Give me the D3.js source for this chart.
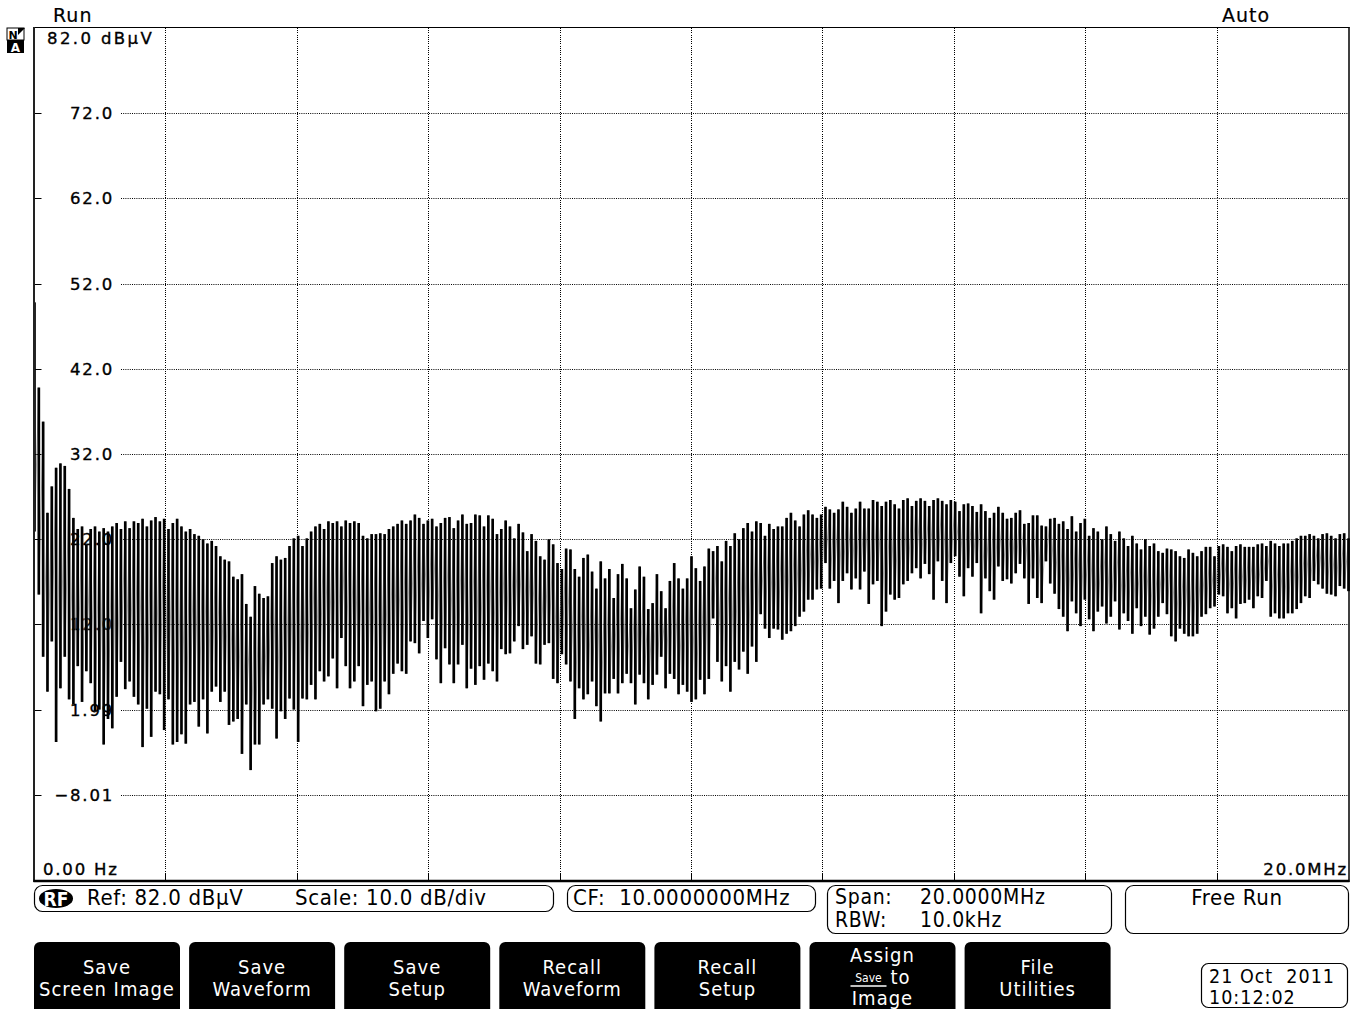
<!DOCTYPE html>
<html><head><meta charset="utf-8">
<script src="https://cdn.jsdelivr.net/npm/d3@7/dist/d3.min.js"></script>
<style>
body{margin:0;background:#fff;}
svg{display:block;}
.lbl{font-family:"DejaVu Sans",sans-serif;font-size:16.5px;letter-spacing:1.8px;fill:#000;stroke:#000;stroke-width:0.35px;}
.top{font-family:"DejaVu Sans",sans-serif;font-size:19px;letter-spacing:1px;fill:#000;stroke:#000;stroke-width:0.2px;}
.cond{font-family:"DejaVu Sans Condensed","Liberation Sans Narrow","Roboto Condensed","DejaVu Sans",sans-serif;fill:#000;letter-spacing:0.7px;}
.btn{letter-spacing:1px;}
</style></head><body>
<svg id="c" width="1356" height="1009"></svg>
<script>
// ---- data ----
const freqRangeMHz = [0, 20];
const refLevel = 82.0, scaleDiv = 10.0, divisions = 10;
const yTickValues = [82.0, 72.0, 62.0, 52.0, 42.0, 32.0, 22.0, 12.0, 1.99, -8.01];
const yTickLabels = ["82.0 dBµV", "72.0", "62.0", "52.0", "42.0", "32.0", "22.0", "12.0", "1.99", "−8.01"];
const xEdgeLabels = ["0.00 Hz", "20.0MHz"];
// per-bin maximum (dBµV)
const traceHigh = [
49.8,39.8,35.8,25.1,28.2,30.4,30.9,30.6,27.9,24.5,
23.2,23.5,21.4,23.2,23.5,22.9,23.3,22.9,23.5,23.9,
23.2,24.1,23.3,24.1,23.9,24.4,23.5,24.2,24.6,24.1,
24.4,23.2,23.9,24.4,23.5,22.9,23.2,22.6,22.4,22.0,
21.5,21.8,21.2,20.0,19.6,19.4,17.6,17.3,17.9,14.4,
12.9,16.5,15.6,15.1,15.3,19.2,20.0,19.6,19.8,21.2,
22.1,22.4,21.2,22.1,22.9,23.5,23.8,23.2,24.1,23.9,
24.1,23.5,24.2,23.9,24.1,23.9,22.4,22.1,22.6,22.6,
22.7,22.6,23.2,23.5,23.8,24.2,23.8,24.2,24.9,24.5,
23.8,24.2,24.4,23.5,23.9,24.5,24.6,23.3,24.2,24.9,
23.8,23.9,24.9,24.8,23.5,24.8,24.4,22.6,23.2,24.2,
23.5,22.1,23.8,22.8,20.6,22.6,21.8,20.0,19.6,22.0,
21.4,19.2,18.5,20.9,20.8,18.5,17.6,19.8,20.2,18.2,
16.2,19.4,17.4,18.5,15.1,17.9,19.1,17.4,13.9,16.1,
18.8,17.6,13.8,14.5,17.9,15.9,13.9,17.1,19.2,17.4,
16.2,17.4,20.0,18.6,17.1,18.8,20.9,20.6,21.2,19.4,
21.8,21.2,22.7,22.0,23.3,23.9,22.9,24.1,23.9,22.4,
23.8,23.2,23.5,23.5,24.5,25.1,24.2,23.5,24.9,25.4,
24.9,24.5,24.9,25.8,25.5,25.1,25.5,26.4,25.8,25.1,
25.6,26.4,25.6,25.6,26.6,26.4,25.9,26.4,26.6,26.1,
25.6,26.6,26.8,25.9,26.5,26.8,26.5,25.9,26.6,26.8,
26.5,26.1,26.6,26.4,25.3,26.1,26.2,25.9,25.2,26.1,
25.3,24.5,25.1,25.8,25.1,24.4,24.5,25.1,25.4,23.8,
23.9,24.8,24.8,23.6,23.5,24.4,24.5,23.8,24.1,23.2,
24.7,22.9,23.9,24.4,22.4,23.3,22.9,22.0,23.5,22.6,
21.8,22.9,22.1,21.2,22.4,21.5,20.8,22.0,21.2,21.5,
20.6,20.4,20.9,20.8,20.6,20.0,19.8,20.8,20.4,20.0,
20.6,21.1,21.1,20.0,21.2,21.4,21.1,20.6,21.2,21.4,
21.1,21.1,21.1,21.4,21.5,21.2,21.8,21.5,21.2,21.5,
21.5,21.8,22.1,22.4,22.4,22.6,22.4,22.1,22.6,22.7,
22.4,22.1,22.6,22.7,22.1
];
// per-bin minimum (dBµV)
const traceLow = [
22.9,15.5,8.2,4.1,10.0,-1.8,4.5,8.2,3.2,2.6,
7.1,2.9,6.5,5.1,1.8,2.0,-2.1,0.9,-0.2,3.5,
7.6,4.4,5.3,3.5,2.6,-2.4,2.1,-1.2,4.1,3.8,
-0.4,3.2,-2.1,-1.8,-0.9,-2.0,2.6,2.9,0.0,3.2,
-0.8,4.1,4.7,2.9,4.1,0.2,0.6,0.9,-3.2,2.6,
-5.1,-2.1,-2.1,2.6,3.2,2.1,-1.4,1.8,0.9,3.3,
2.0,-1.8,3.3,3.2,4.9,3.2,6.5,5.3,5.9,8.0,
4.5,10.4,7.1,4.5,5.3,7.1,2.4,4.9,5.3,1.8,
2.1,5.3,3.8,6.2,7.4,6.5,6.2,10.0,9.8,8.6,
12.4,10.4,12.6,7.9,5.1,9.2,7.3,5.1,7.3,9.6,
4.5,6.8,4.9,7.1,5.5,7.4,6.5,5.3,9.1,8.5,
8.6,10.0,11.8,9.1,9.6,10.6,7.4,7.3,9.6,9.8,
5.6,5.1,8.5,7.3,5.3,0.9,4.5,3.2,3.8,5.3,
2.4,0.6,3.9,3.9,5.6,3.9,5.1,6.2,5.1,2.6,
6.1,5.1,3.2,4.9,6.1,8.2,4.5,6.2,5.6,3.8,
4.9,4.1,2.9,3.2,5.5,3.8,5.6,12.7,7.6,5.3,
7.1,4.1,7.6,6.7,8.8,6.2,9.4,7.6,13.2,11.5,
10.4,11.5,11.4,10.2,10.9,11.2,11.8,12.9,13.5,14.9,
14.9,16.1,16.2,19.2,16.2,17.1,14.5,17.1,18.0,16.1,
17.4,16.1,18.2,14.4,16.7,17.1,11.8,13.5,15.5,14.9,
15.1,16.7,17.1,18.0,18.6,17.4,19.1,17.9,14.9,19.4,
17.1,14.5,19.2,20.0,17.6,15.3,18.6,17.6,19.2,13.3,
17.4,15.9,14.9,18.8,17.1,17.3,16.8,18.0,19.1,17.4,
14.4,17.4,15.1,14.5,19.4,16.8,15.6,13.8,12.9,11.2,
14.7,13.3,11.8,14.9,12.6,11.2,13.5,14.1,12.1,12.9,
14.7,11.4,13.3,12.4,10.9,13.9,11.8,12.9,10.8,11.5,
12.9,14.5,13.2,10.6,10.0,11.5,10.9,10.6,10.6,10.9,
12.9,13.2,13.9,14.1,15.5,15.3,13.3,13.9,12.7,14.4,
14.5,14.9,13.9,15.3,15.1,17.1,12.9,13.3,12.7,12.7,
13.3,13.3,13.8,14.5,15.3,15.1,17.1,16.7,16.2,15.6,
15.5,15.3,16.5,16.2,15.9
];
const statusLeft = ["Ref: 82.0 dBµV", "Scale: 10.0 dB/div"];
const statusCF = "CF:  10.0000000MHz";
const statusSpan = [["Span:", "20.0000MHz"], ["RBW:", "10.0kHz"]];
const triggerText = "Free Run";
const topLeftText = "Run", topRightText = "Auto";
const buttonLabels = [["Save", "Screen Image"], ["Save", "Waveform"], ["Save", "Setup"], ["Recall", "Waveform"], ["Recall", "Setup"], ["Assign", "Save to", "Image"], ["File", "Utilities"]];
const dateLines = ["21 Oct  2011", "10:12:02"];

// ---- layout ----
const svg = d3.select("#c");
const L = 34.5, R = 1348.5, T = 28, B = 880;
const x = d3.scaleLinear().domain(freqRangeMHz).range([L, R]);
const y = d3.scaleLinear().domain([refLevel - scaleDiv * divisions, refLevel]).range([B, T]);
const N = Math.min(traceHigh.length, traceLow.length);
const binFreq = i => freqRangeMHz[0] + (freqRangeMHz[1] - freqRangeMHz[0]) * i / (N - 1);

// top texts
svg.append("text").attr("class", "top").attr("x", 53).attr("y", 22).text(topLeftText);
svg.append("text").attr("class", "top").attr("x", 1222).attr("y", 22).text(topRightText);
// N/A icon
const ic = svg.append("g");
ic.append("rect").attr("x", 7).attr("y", 28).attr("width", 17).attr("height", 12).attr("fill", "#fff").attr("stroke", "#000").attr("stroke-width", 1);
ic.append("path").attr("d", "M18,28 L25,28 L18,35 Z").attr("fill", "#000");
ic.append("text").attr("x", 8.5).attr("y", 38.5).attr("font-family", "DejaVu Sans").attr("font-weight", "bold").attr("font-size", 11).text("N");
ic.append("rect").attr("x", 7).attr("y", 40).attr("width", 17).attr("height", 13).attr("fill", "#000");
ic.append("text").attr("x", 15.5).attr("y", 51.5).attr("text-anchor", "middle").attr("font-family", "DejaVu Sans").attr("font-weight", "bold").attr("font-size", 12).attr("fill", "#fff").text("A");

// grid
const gx = d3.range(1, divisions);
const gxPos = d => x(freqRangeMHz[0] + d * (freqRangeMHz[1] - freqRangeMHz[0]) / divisions);
svg.append("g").selectAll("line").data(gx).join("line")
  .attr("x1", gxPos).attr("x2", gxPos)
  .attr("y1", T).attr("y2", B)
  .attr("stroke", "#000").attr("stroke-width", 1).attr("stroke-dasharray", "1,1.2").attr("shape-rendering", "crispEdges");
svg.append("g").selectAll("line").data(gx).join("line")
  .attr("x1", gxPos).attr("x2", gxPos)
  .attr("y1", B - 6).attr("y2", B)
  .attr("stroke", "#000").attr("stroke-width", 1).attr("shape-rendering", "crispEdges");
svg.append("g").selectAll("line").data(yTickValues.slice(1)).join("line")
  .attr("x1", 121).attr("x2", R).attr("y1", d => Math.round(y(d)) + 0.5).attr("y2", d => Math.round(y(d)) + 0.5)
  .attr("stroke", "#000").attr("stroke-width", 1).attr("stroke-dasharray", "1,1.2");
svg.append("g").selectAll("line").data(yTickValues.slice(1)).join("line")
  .attr("x1", L).attr("x2", L + 7).attr("y1", d => Math.round(y(d)) + 0.5).attr("y2", d => Math.round(y(d)) + 0.5)
  .attr("stroke", "#000").attr("stroke-width", 1);

// y labels
svg.append("g").selectAll("text").data(yTickValues).join("text")
  .attr("class", "lbl")
  .attr("x", (d, i) => i === 0 ? 47 : 114)
  .attr("text-anchor", (d, i) => i === 0 ? "start" : "end")
  .attr("y", (d, i) => i === 0 ? 44 : y(d) + 6)
  .style("letter-spacing", (d, i) => i === 0 ? "2.4px" : null)
  .text((d, i) => yTickLabels[i]);
// x labels
svg.append("text").attr("class", "lbl").attr("x", 43).attr("y", 875).text(xEdgeLabels[0]);
svg.append("text").attr("class", "lbl").attr("x", 1348).attr("y", 875).attr("text-anchor", "end").text(xEdgeLabels[1]);

// trace
const bins = d3.range(N).map(i => ({f: binFreq(i), hi: traceHigh[i], lo: traceLow[i]}));
const zig = [];
bins.forEach(d => { zig.push([x(d.f), y(d.hi)]); zig.push([x(d.f), y(d.lo)]); });
svg.append("path").attr("d", d3.line()(zig)).attr("fill", "none").attr("stroke", "#8a8a8a").attr("stroke-width", 0.7);
svg.append("g").selectAll("line").data(bins).join("line")
  .attr("x1", d => x(d.f)).attr("x2", d => x(d.f))
  .attr("y1", d => y(d.hi)).attr("y2", d => Math.max(y(d.lo), y(d.hi) + 2))
  .attr("stroke", "#000").attr("stroke-width", 2.7);

// frame
const fr = svg.append("g").attr("fill", "none").attr("stroke", "#000");
fr.append("line").attr("x1", L - 1).attr("x2", R + 1).attr("y1", T - 0.5).attr("y2", T - 0.5).attr("stroke-width", 1);
fr.append("line").attr("x1", L - 0.5).attr("x2", L - 0.5).attr("y1", T - 1).attr("y2", B + 2).attr("stroke-width", 2).attr("stroke", "#222");
fr.append("line").attr("x1", R + 0.5).attr("x2", R + 0.5).attr("y1", T - 1).attr("y2", B + 2).attr("stroke-width", 1.5);
fr.append("line").attr("x1", L - 1).attr("x2", R + 1).attr("y1", B + 1).attr("y2", B + 1).attr("stroke-width", 2.5);

// status bar
const sb = svg.append("g");
function box(x0, y0, w, h) {
  sb.append("rect").attr("x", x0).attr("y", y0).attr("width", w).attr("height", h).attr("rx", 8).attr("ry", 8)
    .attr("fill", "none").attr("stroke", "#000").attr("stroke-width", 1.2);
}
box(34.5, 885.5, 519, 26);
box(567.5, 885.5, 248, 26);
box(827.5, 885.5, 284, 48);
box(1125.5, 885.5, 223, 48);
sb.append("ellipse").attr("cx", 56).attr("cy", 898.5).attr("rx", 17).attr("ry", 9.5).attr("fill", "#000");
sb.append("text").attr("class", "cond").attr("x", 56).attr("y", 905.5).attr("text-anchor", "middle").attr("font-size", 19).attr("font-weight", "bold").style("letter-spacing", "0px").style("fill", "#fff").text("RF");
sb.append("text").attr("class", "cond").attr("x", 87).attr("y", 905).attr("font-size", 22).text(statusLeft[0]);
sb.append("text").attr("class", "cond").attr("x", 295).attr("y", 905).attr("font-size", 22).text(statusLeft[1]);
sb.append("text").attr("class", "cond").attr("x", 573).attr("y", 905).attr("font-size", 22).style("white-space", "pre").text(statusCF);
statusSpan.forEach((r, k) => {
  sb.append("text").attr("class", "cond").attr("x", 835).attr("y", 904 + k * 23).attr("font-size", 21).text(r[0]);
  sb.append("text").attr("class", "cond").attr("x", 920).attr("y", 904 + k * 23).attr("font-size", 21).text(r[1]);
});
sb.append("text").attr("class", "cond").attr("x", 1237).attr("y", 905).attr("text-anchor", "middle").attr("font-size", 22).text(triggerText);

// buttons
const bw = 146, bgap = 9.1;
const bg = svg.append("g");
buttonLabels.forEach((lines, k) => {
  const bx = 34 + k * (bw + bgap);
  bg.append("rect").attr("x", bx).attr("y", 942).attr("width", bw).attr("height", 80).attr("rx", 6).attr("fill", "#000");
  const cx = bx + bw / 2;
  if (lines.length === 2) {
    bg.append("text").attr("class", "cond btn").attr("x", cx).attr("y", 974).attr("text-anchor", "middle").attr("font-size", 20).style("fill", "#fff").text(lines[0]);
    bg.append("text").attr("class", "cond btn").attr("x", cx).attr("y", 996).attr("text-anchor", "middle").attr("font-size", 20).style("fill", "#fff").text(lines[1]);
  } else {
    bg.append("text").attr("class", "cond btn").attr("x", cx).attr("y", 962).attr("text-anchor", "middle").attr("font-size", 20).style("fill", "#fff").text(lines[0]);
    const parts = lines[1].split(" ");
    bg.append("text").attr("class", "cond").attr("x", cx - 14).attr("y", 982).attr("text-anchor", "middle").attr("font-size", 12).style("letter-spacing", "0px").style("fill", "#fff").text(parts[0]);
    bg.append("line").attr("x1", cx - 32).attr("x2", cx + 4).attr("y1", 986).attr("y2", 986).attr("stroke", "#fff").attr("stroke-width", 1.5);
    bg.append("text").attr("class", "cond btn").attr("x", cx + 18).attr("y", 984).attr("text-anchor", "middle").attr("font-size", 20).style("fill", "#fff").text(parts[1]);
    bg.append("text").attr("class", "cond btn").attr("x", cx).attr("y", 1005).attr("text-anchor", "middle").attr("font-size", 20).style("fill", "#fff").text(lines[2]);
  }
});
// date
bg.append("rect").attr("x", 1201.5).attr("y", 963.5).attr("width", 146).attr("height", 44).attr("rx", 7).attr("fill", "none").attr("stroke", "#000").attr("stroke-width", 1.2);
bg.append("text").attr("class", "cond").attr("x", 1209).attr("y", 983).attr("font-size", 19.5).style("letter-spacing", "1px").style("white-space", "pre").text(dateLines[0]);
bg.append("text").attr("class", "cond").attr("x", 1209).attr("y", 1004).attr("font-size", 19.5).style("letter-spacing", "1px").text(dateLines[1]);
</script>
</body></html>
